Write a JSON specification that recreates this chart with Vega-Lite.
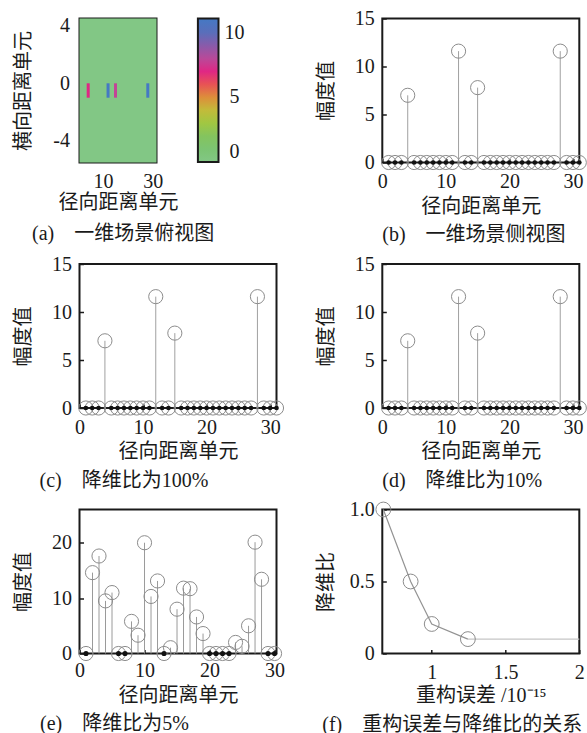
{
  "$schema": "https://vega.github.io/schema/vega-lite/v6.json",
  "background": "white",
  "padding": {"left": 12.5, "top": 7.5, "right": 0, "bottom": 0},
  "datasets": {
    "ground": [{"v": 0}],
    "targets": [{"r": 4, "v": 7.0}, {"r": 12, "v": 11.6}, {"r": 15, "v": 7.8}, {"r": 28, "v": 11.6}],
    "scene": [
      {"x": 1, "v": 0}, {"x": 2, "v": 0}, {"x": 3, "v": 0}, {"x": 4, "v": 7.0}, {"x": 5, "v": 0},
      {"x": 6, "v": 0}, {"x": 7, "v": 0}, {"x": 8, "v": 0}, {"x": 9, "v": 0}, {"x": 10, "v": 0},
      {"x": 11, "v": 0}, {"x": 12, "v": 11.6}, {"x": 13, "v": 0}, {"x": 14, "v": 0}, {"x": 15, "v": 7.8},
      {"x": 16, "v": 0}, {"x": 17, "v": 0}, {"x": 18, "v": 0}, {"x": 19, "v": 0}, {"x": 20, "v": 0},
      {"x": 21, "v": 0}, {"x": 22, "v": 0}, {"x": 23, "v": 0}, {"x": 24, "v": 0}, {"x": 25, "v": 0},
      {"x": 26, "v": 0}, {"x": 27, "v": 0}, {"x": 28, "v": 11.6}, {"x": 29, "v": 0}, {"x": 30, "v": 0},
      {"x": 31, "v": 0}
    ],
    "r5": [
      {"x": 1, "v": 0}, {"x": 2, "v": 14.6}, {"x": 3, "v": 17.6}, {"x": 4, "v": 9.5}, {"x": 5, "v": 11.0},
      {"x": 6, "v": 0}, {"x": 7, "v": 0}, {"x": 8, "v": 5.8}, {"x": 9, "v": 3.3}, {"x": 10, "v": 20.0},
      {"x": 11, "v": 10.3}, {"x": 12, "v": 13.1}, {"x": 13, "v": 0}, {"x": 14, "v": 1.05}, {"x": 15, "v": 8.0},
      {"x": 16, "v": 11.8}, {"x": 17, "v": 11.7}, {"x": 18, "v": 6.6}, {"x": 19, "v": 3.6}, {"x": 20, "v": 0},
      {"x": 21, "v": 0}, {"x": 22, "v": 0}, {"x": 23, "v": 0}, {"x": 24, "v": 2.0}, {"x": 25, "v": 1.3},
      {"x": 26, "v": 5.0}, {"x": 27, "v": 20.1}, {"x": 28, "v": 13.4}, {"x": 29, "v": 0}, {"x": 30, "v": 0}
    ],
    "curve": [
      {"e": 0.672, "r": 1.0, "s": "a"}, {"e": 0.857, "r": 0.5, "s": "a"}, {"e": 1.0, "r": 0.205, "s": "a"},
      {"e": 1.245, "r": 0.1, "s": "a"}, {"e": 1.245, "r": 0.1, "s": "b"}, {"e": 2.0, "r": 0.1, "s": "b"}
    ]
  },
  "columns": 2,
  "bounds": "flush",
  "spacing": {"row": 101.5, "column": 105.8},
  "concat": [
    {
      "width": 77, "height": 144,
      "title": {"text": "(a)\u3000一维场景俯视图", "dx": -47.5, "offset": 12},
      "layer": [
        {
          "data": {"name": "ground"},
          "mark": {"type": "rect"},
          "encoding": {
            "x": {"datum": 0.5, "type": "quantitative"}, "x2": {"datum": 31.5},
            "y": {"datum": -5.5, "type": "quantitative"}, "y2": {"datum": 4.5},
            "color": {"field": "v", "type": "quantitative"}
          }
        },
        {
          "data": {"name": "targets"},
          "mark": {"type": "bar", "width": 3},
          "encoding": {
            "x": {"field": "r", "type": "quantitative", "scale": {"domain": [0.5, 31.5], "nice": false, "zero": false, "padding": 0},
                  "axis": {"values": [10, 30], "ticks": false, "labelPadding": 8.8, "titlePadding": 5.8, "title": "径向距离单元"}},
            "y": {"datum": 0, "type": "quantitative", "scale": {"domain": [-5.5, 4.5], "nice": false, "zero": false, "padding": 0},
                  "axis": {"values": [4, 0, -4], "ticks": false, "labelPadding": 10, "labelExpr": "datum.value < 0 ? '-' + abs(datum.value) : datum.label", "title": "横向距离单元"}},
            "y2": {"datum": -1},
            "color": {
              "field": "v", "type": "quantitative",
              "scale": {
                "domain": [0, 1.0, 2.2, 3.2, 4.2, 5.0, 5.8, 6.8, 7.8, 8.8, 9.8, 11.1],
                "range": ["#82c785", "#7cc472", "#86c45a", "#a8c83c", "#c8b83a", "#dd8e3a", "#e8604a", "#e8207f", "#c24596", "#9457a6", "#5e6cb8", "#4479c4"],
                "clamp": true, "interpolate": "rgb"
              },
              "legend": {
                "orient": "none", "legendX": 118.4, "legendY": 0, "title": null, "direction": "vertical", "type": "gradient",
                "gradientLength": 143.4, "gradientThickness": 20.6, "gradientStrokeColor": "#1a1a1a", "gradientStrokeWidth": 2,
                "values": [0, 5, 10], "labelFont": "Liberation Serif", "labelFontSize": 20, "labelColor": "#1a1a1a",
                "labelAlign": "center", "labelOffset": 16, "padding": 0, "labelOverlap": false,
                "encode": {"labels": {"update": {"align": {"value": "center"}}}}
              }
            }
          }
        }
      ]
    },
    {
      "width": 197, "height": 144,
      "title": {"text": "(b)\u3000一维场景侧视图", "dx": 0},
      "data": {"name": "scene"},
      "encoding": {
        "x": {"field": "x", "type": "quantitative", "scale": {"domain": [0, 31], "nice": false, "zero": false}, "axis": {"values": [0, 10, 20, 30], "title": "径向距离单元"}},
        "y": {"field": "v", "type": "quantitative", "scale": {"domain": [0, 15], "nice": false}, "axis": {"values": [0, 5, 10, 15], "title": "幅度值"}}
      },
      "layer": [
        {"transform": [{"filter": "datum.v > 0"}], "mark": {"type": "rule", "color": "#a0a0a0", "strokeWidth": 1}, "encoding": {"y2": {"datum": 0}}},
        {"mark": {"type": "point", "shape": "circle", "filled": false, "color": "#8c8c8c", "strokeWidth": 1, "size": 200, "opacity": 1}, "encoding": {}},
        {"transform": [{"filter": "datum.v == 0"}], "mark": {"type": "point", "shape": "circle", "filled": true, "color": "#111111", "size": 22, "opacity": 1}, "encoding": {}}
      ]
    },
    {
      "width": 197, "height": 144,
      "title": {"text": "(c)\u3000降维比为100%", "dx": -40},
      "data": {"name": "scene"},
      "encoding": {
        "x": {"field": "x", "type": "quantitative", "scale": {"domain": [0, 31], "nice": false, "zero": false}, "axis": {"values": [0, 10, 20, 30], "title": "径向距离单元"}},
        "y": {"field": "v", "type": "quantitative", "scale": {"domain": [0, 15], "nice": false}, "axis": {"values": [0, 5, 10, 15], "title": "幅度值"}}
      },
      "layer": [
        {"transform": [{"filter": "datum.v > 0"}], "mark": {"type": "rule", "color": "#a0a0a0", "strokeWidth": 1}, "encoding": {"y2": {"datum": 0}}},
        {"mark": {"type": "point", "shape": "circle", "filled": false, "color": "#8c8c8c", "strokeWidth": 1, "size": 200, "opacity": 1}, "encoding": {}},
        {"transform": [{"filter": "datum.v == 0"}], "mark": {"type": "point", "shape": "circle", "filled": true, "color": "#111111", "size": 22, "opacity": 1}, "encoding": {}}
      ]
    },
    {
      "width": 197, "height": 144,
      "title": {"text": "(d)\u3000降维比为10%", "dx": 0},
      "data": {"name": "scene"},
      "encoding": {
        "x": {"field": "x", "type": "quantitative", "scale": {"domain": [0, 31], "nice": false, "zero": false}, "axis": {"values": [0, 10, 20, 30], "title": "径向距离单元"}},
        "y": {"field": "v", "type": "quantitative", "scale": {"domain": [0, 15], "nice": false}, "axis": {"values": [0, 5, 10, 15], "title": "幅度值"}}
      },
      "layer": [
        {"transform": [{"filter": "datum.v > 0"}], "mark": {"type": "rule", "color": "#a0a0a0", "strokeWidth": 1}, "encoding": {"y2": {"datum": 0}}},
        {"mark": {"type": "point", "shape": "circle", "filled": false, "color": "#8c8c8c", "strokeWidth": 1, "size": 200, "opacity": 1}, "encoding": {}},
        {"transform": [{"filter": "datum.v == 0"}], "mark": {"type": "point", "shape": "circle", "filled": true, "color": "#111111", "size": 22, "opacity": 1}, "encoding": {}}
      ]
    },
    {
      "width": 197, "height": 144,
      "title": {"text": "(e)\u3000降维比为5%", "dx": -39.5, "offset": 9},
      "data": {"name": "r5"},
      "encoding": {
        "x": {"field": "x", "type": "quantitative", "scale": {"domain": [0, 30.3], "nice": false, "zero": false}, "axis": {"values": [0, 10, 20, 30], "labelPadding": 11.3, "titlePadding": 7.8, "title": "径向距离单元"}},
        "y": {"field": "v", "type": "quantitative", "scale": {"domain": [0, 26], "nice": false}, "axis": {"values": [0, 10, 20], "title": "幅度值"}}
      },
      "layer": [
        {"transform": [{"filter": "datum.v > 0"}], "mark": {"type": "rule", "color": "#9a9a9a", "strokeWidth": 1}, "encoding": {"y2": {"datum": 0}}},
        {"mark": {"type": "point", "shape": "circle", "filled": false, "color": "#8c8c8c", "strokeWidth": 1, "size": 200, "opacity": 1}, "encoding": {}},
        {"transform": [{"filter": "datum.v == 0"}], "mark": {"type": "point", "shape": "circle", "filled": true, "color": "#111111", "size": 26, "opacity": 1}, "encoding": {}}
      ]
    },
    {
      "width": 197, "height": 144,
      "title": {"text": "(f)\u3000重构误差与降维比的关系", "dx": -60, "offset": 9},
      "data": {"name": "curve"},
      "encoding": {
        "x": {"field": "e", "type": "quantitative", "scale": {"domain": [0.665, 2], "nice": false, "zero": false}, "axis": {"values": [1, 1.5, 2], "format": "~g", "titlePadding": 8, "title": "重构误差 /10⁻¹⁵"}},
        "y": {"field": "r", "type": "quantitative", "scale": {"domain": [0, 1], "nice": false}, "axis": {"values": [0, 0.5, 1], "labelExpr": "datum.value == 0 ? '0' : format(datum.value, '.1f')", "title": "降维比"}}
      },
      "layer": [
        {"mark": {"type": "line", "strokeWidth": 1.2}, "encoding": {"color": {"field": "s", "type": "nominal", "scale": {"domain": ["a", "b"], "range": ["#939393", "#c6c6c6"]}, "legend": null}}},
        {"transform": [{"filter": "datum.s == 'a'"}], "mark": {"type": "point", "shape": "circle", "filled": false, "color": "#8c8c8c", "strokeWidth": 1, "size": 220, "opacity": 1}, "encoding": {}}
      ]
    }
  ],
  "config": {
    "font": "Liberation Serif, Noto Sans CJK SC",
    "view": {"stroke": "#1a1a1a", "strokeWidth": 2},
    "axis": {
      "grid": false, "domain": false, "tickSize": -4, "tickWidth": 1.5, "tickColor": "#1a1a1a",
      "labelFont": "Liberation Serif", "labelFontSize": 20, "labelColor": "#1a1a1a", "labelFlush": false, "labelOverlap": false, "labelBound": false,
      "titleFont": "Liberation Serif, Noto Sans CJK SC", "titleFontSize": 20, "titleFontWeight": "normal", "titleColor": "#1a1a1a"
    },
    "axisX": {"labelPadding": 13.3, "minExtent": 24, "maxExtent": 24, "titlePadding": 9.8},
    "axisY": {"labelPadding": 12, "minExtent": 35, "maxExtent": 35, "titlePadding": 10.7},
    "title": {"orient": "bottom", "anchor": "start", "frame": "group", "font": "Liberation Serif, Noto Sans CJK SC", "fontSize": 20, "fontWeight": "normal", "color": "#1a1a1a", "offset": 9}
  }
}
